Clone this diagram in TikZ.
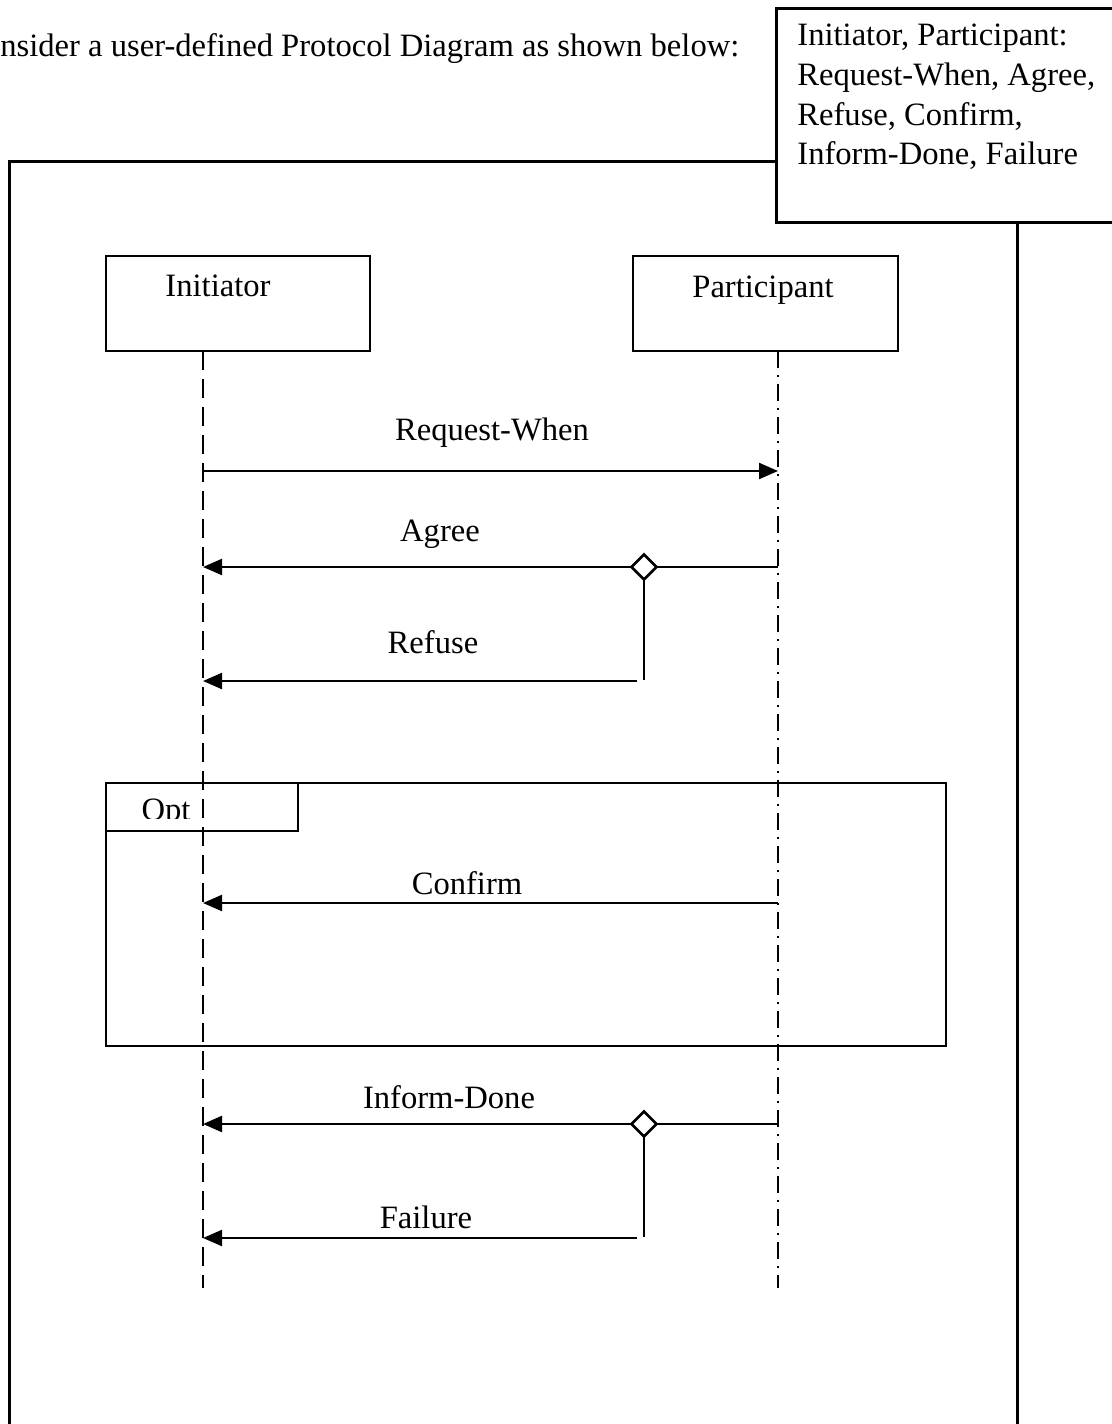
\documentclass[tikz,border=0pt]{standalone}
\usepackage{fontspec}
\setmainfont{Liberation Serif}
\usetikzlibrary{arrows.meta,shapes.geometric}
\begin{document}
\begin{tikzpicture}[x=0.5pt,y=-0.5pt,
  txt/.style={font=\fontsize{16.3pt}{19.8pt}\selectfont, inner sep=0pt},
  frameline/.style={line width=1.5pt},
  boxline/.style={draw, line width=1.3pt},
  msg/.style={line width=1.1pt, -{Triangle[length=9.5pt,width=8pt]}},
  plain/.style={line width=1.1pt},
  lifeI/.style={line width=1.2pt, dash pattern=on 9.5pt off 4.5pt},
  lifeP/.style={line width=1.2pt, dash pattern=on 8.5pt off 3.5pt on 1pt off 3.5pt},
  choice/.style={shape=diamond, draw, fill=white, line width=1.3pt, inner sep=0pt,
                 minimum width=13pt, minimum height=13pt}]
\useasboundingbox (0,0) rectangle (1112,1424);

% heading line
\node[txt, anchor=base west] (intro) at (0,56) {nsider a user-defined Protocol Diagram as shown below:};

% outer frame (runs past the page edges)
\coordinate (fTL) at (9,161);
\coordinate (fBL) at (9,1440);
\coordinate (fTR) at (776,161);
\coordinate (fRT) at (1017,222);
\coordinate (fRB) at (1017,1440);
\draw[frameline] (fBL) -- (fTL) -- (fTR);
\draw[frameline] (fRT) -- (fRB);

% signature box in the top right corner
\coordinate (sTL) at (776,8);
\coordinate (sTR) at (1130,8);
\coordinate (sBL) at (776,222);
\coordinate (sBR) at (1130,222);
\draw[frameline] (sTR) -- (sTL) -- (sBL) -- (sBR);
\node[txt, anchor=north west, align=left] (sig) at (797,24)
  {Initiator, Participant:\\Request-When, Agree,\\Refuse, Confirm,\\Inform-Done, Failure};

% roles
\node[boxline, minimum width=132pt, minimum height=47.5pt, inner sep=0pt] (init) at (238,303.5) {};
\node[boxline, minimum width=132.5pt, minimum height=47.5pt, inner sep=0pt] (part) at (765.5,303.5) {};
\node[txt, anchor=base] (initL) at (218,296) {Initiator};
\node[txt, anchor=base] (partL) at (763,297) {Participant};

% lifelines
\coordinate (iTop) at (203,351);
\coordinate (iBot) at (203,1288);
\coordinate (pTop) at (778,351);
\coordinate (pBot) at (778,1288);
\draw[lifeI] (iTop) -- (iBot);
\draw[lifeP] (pTop) -- (pBot);

% Request-When
\coordinate (rwI) at (203,471);
\coordinate (rwP) at (778,471);
\draw[msg] (rwI) -- (rwP);
\node[txt, anchor=base] (rwL) at (492,440) {Request-When};

% Agree / Refuse
\coordinate (agP) at (778,567);
\coordinate (agI) at (203,567);
\draw[msg] (agP) -- (agI);
\node[choice] (d1) at (644,567) {};
\node[txt, anchor=base] (agL) at (440,541) {Agree};
\coordinate (d1down) at (644,680);
\draw[plain] (d1.south) ++(0,-4) -- (d1down);
\coordinate (rfS) at (637,681);
\coordinate (rfI) at (203,681);
\draw[msg] (rfS) -- (rfI);
\node[txt, anchor=base] (rfL) at (433,653) {Refuse};

% optional fragment
\node[boxline, minimum width=420pt, minimum height=131.5pt, inner sep=0pt] (opt) at (526,914.5) {};
\coordinate (tabTL) at (106,783);
\coordinate (tabBR) at (298,831);
\draw[line width=1.3pt] (tabTL |- tabBR) -- (tabBR) -- (tabBR |- tabTL);
\begin{scope}
  \clip (106,783) rectangle (298,818.5);
  \node[txt, anchor=base] (optL) at (166,820) {Opt};
\end{scope}

% Confirm
\coordinate (cfP) at (778,903);
\coordinate (cfI) at (203,903);
\draw[msg] (cfP) -- (cfI);
\node[txt, anchor=base] (cfL) at (467,894) {Confirm};

% Inform-Done / Failure
\coordinate (idP) at (778,1124);
\coordinate (idI) at (203,1124);
\draw[msg] (idP) -- (idI);
\node[choice] (d2) at (644,1124) {};
\node[txt, anchor=base] (idL) at (449,1108) {Inform-Done};
\coordinate (d2down) at (644,1237);
\draw[plain] (d2.south) ++(0,-4) -- (d2down);
\coordinate (faS) at (637,1238);
\coordinate (faI) at (203,1238);
\draw[msg] (faS) -- (faI);
\node[txt, anchor=base] (faL) at (426,1228) {Failure};
\end{tikzpicture}
\end{document}
